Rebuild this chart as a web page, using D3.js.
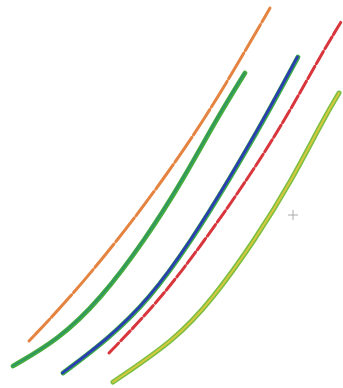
<!DOCTYPE html>
<html><head><meta charset="utf-8">
<script src="https://cdn.jsdelivr.net/npm/d3@7"></script>
<style>html,body{margin:0;padding:0;background:#fff;}</style>
</head><body>
<svg id="chart" width="343" height="388"></svg>
<script>
// Series points (x, y) in chart units; y grows upward
const orangeX = [29, 68, 118, 163, 204, 240, 270];
const orangeY = [47, 88, 148, 208, 268, 328, 380];
const greenX = [13, 58, 100, 145, 183, 216, 245];
const greenY = [22, 48, 88, 148, 208, 268, 315];
const blueX = [63, 107, 149, 192, 229, 264, 298];
const blueY = [15, 48, 88, 148, 208, 268, 331];
const redX = [109, 160, 205, 247, 285, 318, 341];
const redY = [35, 88, 148, 208, 268, 328, 366];
const yellowX = [113, 175, 212, 255, 292, 323, 339];
const yellowY = [6, 48, 88, 148, 208, 268, 295];
const markerX = [293];
const markerY = [173];

const W = 343, H = 388;
const x = d3.scaleLinear().domain([0, 343]).range([0, W]);
const y = d3.scaleLinear().domain([0, 388]).range([H, 0]);
const svg = d3.select("#chart");
svg.append("defs").append("filter").attr("id", "soft")
  .append("feGaussianBlur").attr("stdDeviation", 0.5);
const g = svg.append("g").attr("filter", "url(#soft)");

const line = d3.line().x(d => x(d[0])).y(d => y(d[1])).curve(d3.curveBasis);
const pts = (xs, ys) => xs.map((v, i) => [v, ys[i]]);

function draw(data, stroke, width, dash, dx) {
  const p = g.append("path").datum(data)
    .attr("d", line).attr("fill", "none")
    .attr("stroke", stroke).attr("stroke-width", width)
    .attr("stroke-linecap", "round");
  if (dash) p.attr("stroke-dasharray", dash);
  if (dx) p.attr("transform", `translate(${dx},0)`);
}

// orange dashed
draw(pts(orangeX, orangeY), "#e5833f", 3, "30,3");
// green (teal core)
draw(pts(greenX, greenY), "#45ad3d", 4.8);
draw(pts(greenX, greenY), "#2f9565", 1.8, null, -0.5);
// blue with green edges
draw(pts(blueX, blueY), "#3caa48", 4.8);
draw(pts(blueX, blueY), "#2a3db2", 2.8, null, -0.6);
// red dashed
draw(pts(redX, redY), "#d8363c", 3, "14,3");
// yellow with green edges
draw(pts(yellowX, yellowY), "#7bbf40", 5);
draw(pts(yellowX, yellowY), "#d6c940", 2);

// small cross marker
const m = svg.append("g").attr("stroke", "#aaa").attr("stroke-width", 1);
markerX.forEach((mx, i) => {
  const cx = x(mx), cy = y(markerY[i]);
  m.append("line").attr("x1", cx - 5).attr("x2", cx + 5).attr("y1", cy).attr("y2", cy);
  m.append("line").attr("x1", cx).attr("x2", cx).attr("y1", cy - 5).attr("y2", cy + 5);
});
</script>
</body></html>
